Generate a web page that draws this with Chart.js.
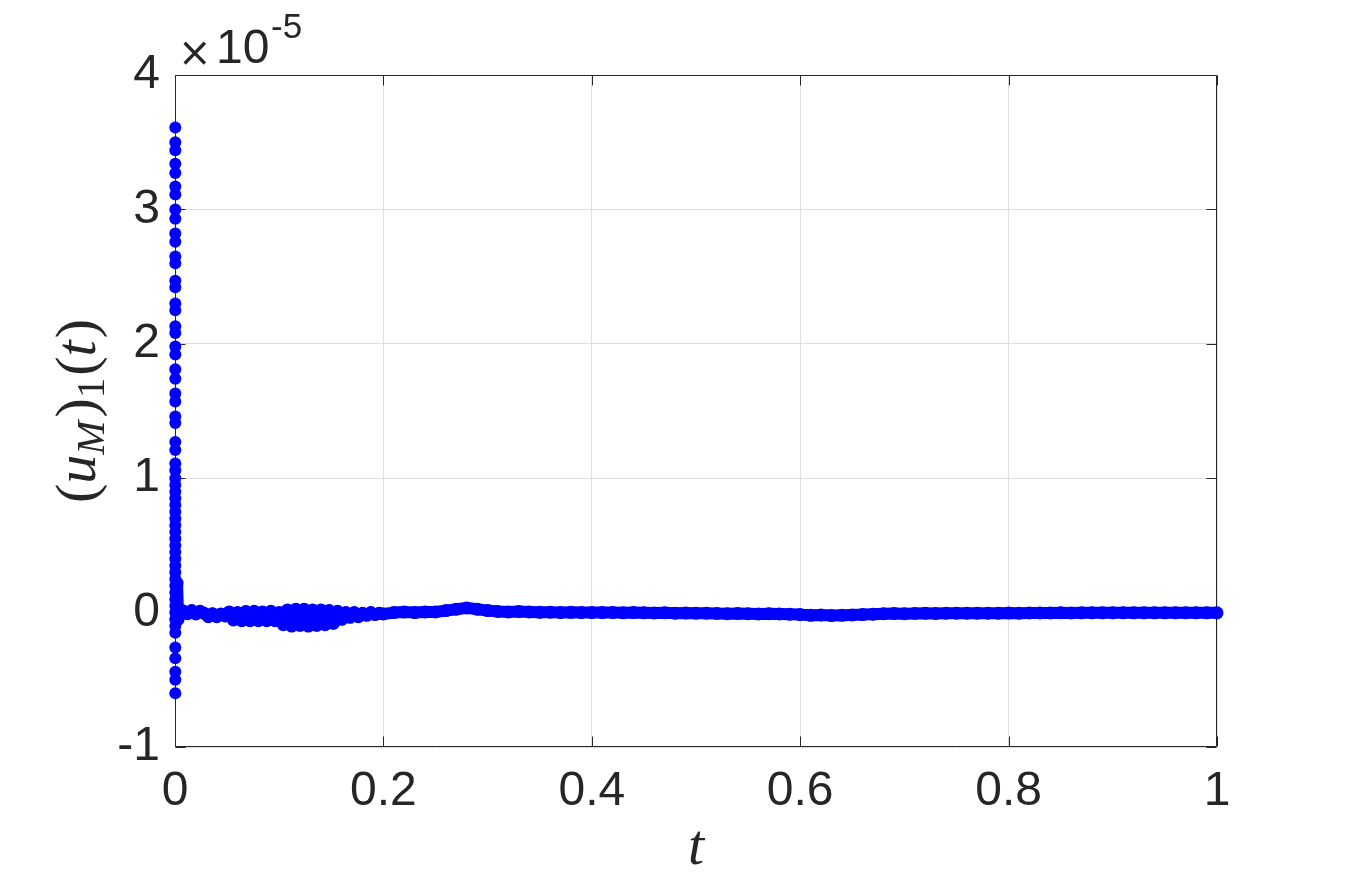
<html>
<head>
<meta charset="utf-8">
<script src="https://cdn.jsdelivr.net/npm/chart.js@4.4.0/dist/chart.umd.min.js"></script>
<style>
  body { margin: 0; background: #fff; }
</style>
</head>
<body>
<canvas id="myChart" width="1346" height="886"></canvas>
<script>
// values are in units of 1e-5
var xTicks = [0, 0.2, 0.4, 0.6, 0.8, 1];
var xTickLabels = ['0', '0.2', '0.4', '0.6', '0.8', '1'];
var yTicks = [-1, 0, 1, 2, 3, 4];
var yTickLabels = ['-1', '0', '1', '2', '3', '4'];

// first samples, all sitting at t ~ 0
var tSpike = 0.0003;
var uSpike = [3.61, 3.50, 3.44, 3.34, 3.27, 3.17, 3.11, 3.00, 2.93, 2.82, 2.76, 2.65, 2.60,
  2.47, 2.42, 2.30, 2.25, 2.13, 2.08, 1.98, 1.92, 1.81, 1.74, 1.63, 1.57, 1.46, 1.41,
  1.27, 1.21, 1.11, 1.06, 1.00, 0.95, 0.90, 0.85, 0.80, 0.75, 0.70, 0.65, 0.60, 0.55,
  0.50, 0.45, 0.40, 0.35, 0.30, 0.25, 0.20, 0.15, 0.10, 0.05, 0.00, -0.05, -0.10,
  -0.15, -0.26, -0.34, -0.44, -0.50, -0.60];

// rest of the run
var tRest = [0.002, 0.003, 0.005,
  0.008, 0.012, 0.016, 0.020, 0.024, 0.028, 0.032, 0.036, 0.040, 0.044, 0.048,
  0.052, 0.056, 0.060, 0.064, 0.068, 0.072, 0.076, 0.080, 0.084, 0.088, 0.092, 0.096, 0.100,
  0.104, 0.108, 0.112, 0.116, 0.120, 0.124, 0.128, 0.132, 0.136, 0.140, 0.144, 0.148, 0.152, 0.156,
  0.160, 0.164, 0.168, 0.172, 0.176, 0.180, 0.184, 0.188, 0.192, 0.196, 0.200,
  0.21, 0.22, 0.23, 0.24, 0.25, 0.26, 0.27, 0.28, 0.29, 0.30,
  0.31, 0.32, 0.33, 0.34, 0.35, 0.36, 0.37, 0.38, 0.39, 0.40,
  0.41, 0.42, 0.43, 0.44, 0.45, 0.46, 0.47, 0.48, 0.49, 0.50,
  0.51, 0.52, 0.53, 0.54, 0.55, 0.56, 0.57, 0.58, 0.59, 0.60,
  0.61, 0.62, 0.63, 0.64, 0.65, 0.66, 0.67, 0.68, 0.69, 0.70,
  0.71, 0.72, 0.73, 0.74, 0.75, 0.76, 0.77, 0.78, 0.79, 0.80,
  0.81, 0.82, 0.83, 0.84, 0.85, 0.86, 0.87, 0.88, 0.89, 0.90,
  0.91, 0.92, 0.93, 0.94, 0.95, 0.96, 0.97, 0.98, 0.99, 1.00];
var uRest = [0.22, -0.05, 0.02,
  0.012, -0.008, 0.015, -0.01, 0.01, -0.005, -0.03, -0.008, -0.03, -0.01, -0.025,
  0.005, -0.055, 0.0, -0.06, 0.008, -0.06, 0.01, -0.06, 0.005, -0.06, 0.01, -0.06, 0.0,
  -0.09, 0.02, -0.1, 0.025, -0.095, 0.025, -0.1, 0.02, -0.095, 0.02, -0.09, 0.015, -0.08, 0.01,
  -0.05, 0.0, -0.035, 0.0, -0.03, -0.005, -0.02, 0.0, -0.015, -0.005, -0.01,
  0.0, 0.005, 0.0, 0.005, 0.005, 0.015, 0.025, 0.035, 0.025, 0.015,
  0.008, 0.005, 0.008, 0.005, 0.002, 0.003, 0.0, 0.002, 0.0, 0.0,
  0.0, 0.0, -0.002, 0.0, -0.002, -0.003, -0.002, -0.004, -0.003, -0.005,
  -0.005, -0.006, -0.008, -0.006, -0.008, -0.01, -0.008, -0.01, -0.012, -0.015,
  -0.02, -0.018, -0.022, -0.02, -0.018, -0.015, -0.012, -0.008, -0.006, -0.008,
  -0.006, -0.005, -0.006, -0.005, -0.005, -0.004, -0.005, -0.004, -0.004, -0.003,
  -0.004, -0.003, -0.003, -0.003, -0.002, -0.003, -0.002, -0.002, -0.002, -0.002,
  -0.002, -0.002, -0.002, -0.002, -0.002, -0.002, -0.002, -0.002, -0.002, -0.002];

var spikePts = uSpike.map(function (u) { return { x: tSpike, y: u }; });
var restPts = tRest.map(function (t, i) { return { x: t, y: uRest[i] }; });

var ink = '#262626';
var blue = '#0000ff';

// draws a run of text pieces (normal, italic, subscript)
function drawRuns(c, runs, size) {
  var w = 0;
  runs.forEach(function (r) {
    c.font = (r.it ? 'italic ' : '') + Math.round(size * (r.s || 1)) + 'px "Liberation Serif"';
    r.w = c.measureText(r.t).width;
    w += r.w + (r.gap || 0);
  });
  var x = -w / 2;
  runs.forEach(function (r) {
    c.font = (r.it ? 'italic ' : '') + Math.round(size * (r.s || 1)) + 'px "Liberation Serif"';
    c.fillText(r.t, x, (r.dy || 0) * size);
    x += r.w + (r.gap || 0);
  });
}

var decor = {
  id: 'decor',
  beforeDatasetsDraw: function (chart) {
    var c = chart.ctx, a = chart.chartArea, sx = chart.scales.x, sy = chart.scales.y;
    var L = Math.round(a.left) + 0.5, R = Math.round(a.right) - 0.5;
    var T = Math.round(a.top) + 0.5, B = Math.round(a.bottom) - 0.5;
    c.save();
    c.strokeStyle = ink;
    c.lineWidth = 1;
    c.beginPath();
    c.rect(L, T, R - L, B - T);
    xTicks.forEach(function (v) {
      var p = Math.round(sx.getPixelForValue(v)) + 0.5;
      c.moveTo(p, B); c.lineTo(p, B - 10);
      c.moveTo(p, T); c.lineTo(p, T + 10);
    });
    yTicks.forEach(function (v) {
      var p = Math.round(sy.getPixelForValue(v)) + 0.5;
      c.moveTo(L, p); c.lineTo(L + 10, p);
      c.moveTo(R, p); c.lineTo(R - 10, p);
    });
    c.stroke();
    c.restore();
  },
  afterDraw: function (chart) {
    var c = chart.ctx;
    c.save();
    c.fillStyle = ink;
    c.textBaseline = 'alphabetic';
    // exponent label
    c.font = '40px "DejaVu Sans"';
    c.textAlign = 'left';
    c.fillText('\u00d7', 178, 66);
    c.font = '48px "Liberation Sans"';
    c.fillText('10', 216, 63);
    c.font = '35px "Liberation Sans"';
    c.fillText('-5', 271, 38);
    // x title
    c.font = 'italic 58px "Liberation Serif"';
    c.textAlign = 'center';
    c.fillText('t', 696, 864);
    // y title
    c.translate(95, 411);
    c.rotate(-Math.PI / 2);
    c.textAlign = 'left';
    drawRuns(c, [
      { t: '(' },
      { t: 'u', it: true },
      { t: 'M', it: true, s: 0.7, dy: 0.15, gap: 3 },
      { t: ')' },
      { t: '1', s: 0.7, dy: 0.15, gap: 2 },
      { t: '(' },
      { t: 't', it: true, gap: 2 },
      { t: ')' }
    ], 58);
    c.restore();
  }
};

var ctx = document.getElementById('myChart').getContext('2d');
var chart = new Chart(ctx, {
  type: 'scatter',
  data: {
    datasets: [{
      data: spikePts,
      showLine: false,
      pointRadius: 6,
      pointBorderWidth: 0,
      backgroundColor: blue,
      borderColor: blue,
      clip: false
    }, {
      data: restPts,
      showLine: true,
      borderWidth: 12,
      borderColor: blue,
      borderJoinStyle: 'round',
      borderCapStyle: 'round',
      pointRadius: 6.5,
      pointBorderWidth: 0,
      backgroundColor: blue,
      clip: false
    }]
  },
  options: {
    responsive: false,
    animation: false,
    layout: { padding: { left: 0, top: 75, right: 129, bottom: 0 } },
    plugins: { legend: { display: false }, tooltip: { enabled: false } },
    scales: {
      x: {
        type: 'linear', min: 0, max: 1,
        afterBuildTicks: function (s) { s.ticks = xTicks.map(function (v) { return { value: v }; }); },
        afterFit: function (s) { s.height = 139; },
        ticks: {
          color: ink, padding: 16, maxRotation: 0,
          font: { family: '"Liberation Sans"', size: 48 },
          callback: function (v) { return xTickLabels[xTicks.indexOf(v)]; }
        },
        grid: { color: '#dfdfdf', drawTicks: false },
        border: { display: false }
      },
      y: {
        type: 'linear', min: -1, max: 4,
        afterBuildTicks: function (s) { s.ticks = yTicks.map(function (v) { return { value: v }; }); },
        afterFit: function (s) { s.width = 175; },
        ticks: {
          color: ink, padding: 15,
          font: { family: '"Liberation Sans"', size: 48 },
          callback: function (v) { return yTickLabels[yTicks.indexOf(v)]; }
        },
        grid: { color: '#dfdfdf', drawTicks: false },
        border: { display: false }
      }
    }
  },
  plugins: [decor]
});
</script>
</body>
</html>
